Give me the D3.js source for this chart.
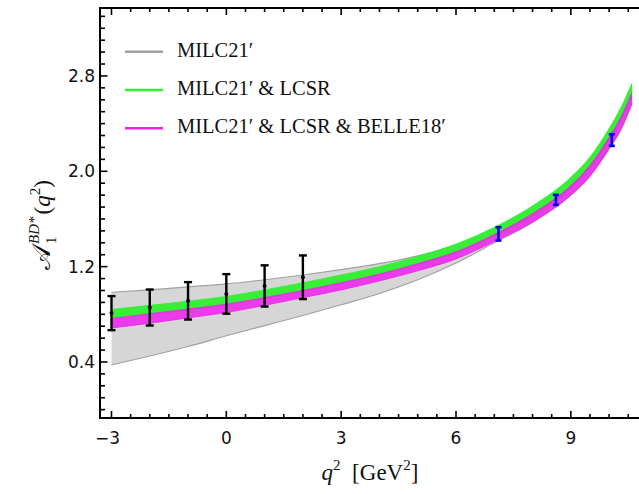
<!DOCTYPE html>
<html>
<head>
<meta charset="utf-8">
<script src="https://cdn.jsdelivr.net/npm/d3@7"></script>
<style>
  body { margin: 0; background: #fff; }
  svg { display: block; }
</style>
</head>
<body>
<svg id="chart" width="639" height="494"></svg>
<script>
// band grid (q^2 in GeV^2) and band edges
const q2Grid   = [-3, -2, -1, 0, 1, 2, 3, 4, 5, 6, 7, 8, 9, 9.5, 10, 10.3, 10.6];
const milcHi   = [0.985, 1.005, 1.03, 1.055, 1.09, 1.13, 1.175, 1.225, 1.29, 1.38, 1.51, 1.69, 1.93, 2.10, 2.34, 2.50, 2.72];
const milcLo   = [0.375, 0.45, 0.53, 0.62, 0.705, 0.79, 0.88, 0.975, 1.09, 1.23, 1.40, 1.57, 1.80, 1.96, 2.19, 2.34, 2.57];
const lcsrHi   = [0.84, 0.875, 0.91, 0.95, 1.005, 1.065, 1.13, 1.20, 1.285, 1.39, 1.53, 1.71, 1.95, 2.12, 2.36, 2.53, 2.74];
const lcsrLo   = [0.765, 0.80, 0.835, 0.878, 0.935, 0.995, 1.06, 1.13, 1.215, 1.315, 1.455, 1.625, 1.86, 2.025, 2.26, 2.42, 2.62];
const belleHi  = [0.765, 0.805, 0.845, 0.885, 0.94, 1.0, 1.065, 1.138, 1.225, 1.325, 1.47, 1.645, 1.88, 2.05, 2.285, 2.45, 2.66];
const belleLo  = [0.685, 0.725, 0.77, 0.815, 0.875, 0.94, 1.005, 1.08, 1.165, 1.265, 1.41, 1.575, 1.80, 1.96, 2.19, 2.35, 2.57];

// lattice points (black) and BELLE points (blue)
const latticeQ2  = [-3, -2, -1, 0, 1, 2];
const latticeVal = [0.81, 0.857, 0.913, 0.971, 1.038, 1.111];
const latticeErr = [0.143, 0.151, 0.157, 0.166, 0.173, 0.183];
const belleQ2    = [7.11, 8.61, 10.07];
const belleVal   = [1.475, 1.76, 2.262];
const belleErr   = [0.056, 0.042, 0.049];

const xTicks = [-3, 0, 3, 6, 9];
const yTicks = [0.4, 1.2, 2.0, 2.8];
const legendLabels = ["MILC21\u2032", "MILC21\u2032 & LCSR", "MILC21\u2032 & LCSR & BELLE18\u2032"];

const svg = d3.select("#chart");
const pLeft = 100, pRight = 640, pTop = 8, pBottom = 418;

const x = d3.scaleLinear().domain([-3.3, -3.3 + (pRight - pLeft) / 38.28]).range([pLeft, pRight]);
const y = d3.scaleLinear().domain([-0.07, 3.37]).range([pBottom, pTop]);

svg.append("clipPath").attr("id", "plotclip")
  .append("rect").attr("x", pLeft).attr("y", pTop).attr("width", pRight - pLeft).attr("height", pBottom - pTop);

const plot = svg.append("g").attr("clip-path", "url(#plotclip)");

function drawBand(hi, lo, fill, fillOpacity, edge, edgeWidth) {
  const pts = q2Grid.map((q, i) => ({ q, hi: hi[i], lo: lo[i] }));
  const area = d3.area().x(d => x(d.q)).y0(d => y(d.lo)).y1(d => y(d.hi)).curve(d3.curveMonotoneX);
  plot.append("path").datum(pts).attr("d", area)
    .attr("fill", fill).attr("fill-opacity", fillOpacity).attr("stroke", "none");
  ["hi", "lo"].forEach(k => {
    const line = d3.line().x(d => x(d.q)).y(d => y(d[k])).curve(d3.curveMonotoneX);
    plot.append("path").datum(pts).attr("d", line)
      .attr("fill", "none").attr("stroke", edge).attr("stroke-width", edgeWidth);
  });
}

drawBand(milcHi, milcLo, "#d6d6d6", 1, "#a0a0a0", 1.2);
drawBand(lcsrHi, lcsrLo, "#2ef02e", 0.95, "#2ef02e", 0.8);
drawBand(belleHi, belleLo, "#f020f0", 0.85, "#f020f0", 0.8);

// error bars
function drawErrors(qs, vals, errs, color, width, cap, dot) {
  const g = svg.append("g");
  qs.forEach((q, i) => {
    const cx = x(q), y1 = y(vals[i] + errs[i]), y2 = y(vals[i] - errs[i]);
    g.append("line").attr("x1", cx).attr("x2", cx).attr("y1", y1).attr("y2", y2)
      .attr("stroke", color).attr("stroke-width", width);
    [y1, y2].forEach(yy => g.append("line")
      .attr("x1", cx - cap).attr("x2", cx + cap).attr("y1", yy).attr("y2", yy)
      .attr("stroke", color).attr("stroke-width", width));
    if (dot) g.append("circle").attr("cx", cx).attr("cy", y(vals[i])).attr("r", dot).attr("fill", color);
  });
}
drawErrors(latticeQ2, latticeVal, latticeErr, "#000", 2.4, 4, 2);
drawErrors(belleQ2, belleVal, belleErr, "#0000ee", 2.6, 3, 0);

// frame and ticks
const axisG = svg.append("g").attr("stroke", "#000");
axisG.append("line").attr("x1", pLeft).attr("x2", pLeft).attr("y1", pTop - 1).attr("y2", pBottom + 1).attr("stroke-width", 2);
axisG.append("line").attr("x1", pLeft - 1).attr("x2", pRight).attr("y1", pBottom).attr("y2", pBottom).attr("stroke-width", 2);
axisG.append("line").attr("x1", pLeft - 1).attr("x2", pRight).attr("y1", pTop).attr("y2", pTop).attr("stroke-width", 2);

const xMinor = d3.range(-3, 10.75, 0.5);
xMinor.forEach(v => {
  const major = xTicks.includes(v);
  const len = major ? 7 : 4;
  axisG.append("line").attr("x1", x(v)).attr("x2", x(v)).attr("y1", pBottom).attr("y2", pBottom - len).attr("stroke-width", 1.6);
  axisG.append("line").attr("x1", x(v)).attr("x2", x(v)).attr("y1", pTop).attr("y2", pTop + len).attr("stroke-width", 1.6);
});
const yMinor = d3.range(0, 34).map(i => i / 10);
yMinor.forEach(v => {
  const major = yTicks.some(t => Math.abs(t - v) < 1e-6);
  const len = major ? 7.5 : 5;
  axisG.append("line").attr("x1", pLeft).attr("x2", pLeft + len).attr("y1", y(v)).attr("y2", y(v)).attr("stroke-width", 1.6);
});

const tickFont = "'DejaVu Sans', sans-serif";
svg.append("g").selectAll("text").data(xTicks).join("text")
  .attr("x", d => x(d) + (d < 0 ? -4 : 0)).attr("y", 444)
  .attr("text-anchor", "middle").attr("font-family", tickFont).attr("font-size", 17).attr("fill", "#111")
  .text(d => d < 0 ? "\u2212" + Math.abs(d) : d);
svg.append("g").selectAll("text").data(yTicks).join("text")
  .attr("x", 95).attr("y", d => y(d) + 6)
  .attr("text-anchor", "end").attr("font-family", tickFont).attr("font-size", 17).attr("fill", "#111")
  .text(d => d.toFixed(1));

// legend
const serif = "'Liberation Serif', 'DejaVu Serif', serif";
const legendColors = ["#a0a0a0", "#2ef02e", "#f020f0"];
legendLabels.forEach((t, i) => {
  const by = 56.7 + i * 38.3;
  svg.append("line").attr("x1", 125).attr("x2", 163).attr("y1", by - 5).attr("y2", by - 5)
    .attr("stroke", legendColors[i]).attr("stroke-width", 2.6);
  svg.append("text").attr("x", 177).attr("y", by).attr("font-family", serif).attr("font-size", 20.5)
    .attr("fill", "#111").text(t);
});

// x label
const xl = svg.append("text").attr("x", 370).attr("y", 480).attr("text-anchor", "middle")
  .attr("font-family", serif).attr("font-size", 23).attr("fill", "#111");
xl.append("tspan").attr("font-style", "italic").text("q");
xl.append("tspan").attr("font-size", 15).attr("dy", -10).text("2");
xl.append("tspan").attr("dy", 10).text("\u2002[GeV");
xl.append("tspan").attr("font-size", 15).attr("dy", -10).text("2");
xl.append("tspan").attr("dy", 10).text("]");

// y label (rotated)
const yl = svg.append("g").attr("transform", "translate(50,270) rotate(-90)")
  .attr("font-family", serif).attr("fill", "#111");
const aT = yl.append("text").attr("x", 0).attr("y", 0).attr("font-size", 26).text("\ud835\udc9c");
const aw = aT.node().getComputedTextLength();
const supT = yl.append("text").attr("x", aw + 1).attr("y", -11).attr("font-size", 15).attr("font-style", "italic").text("BD*");
yl.append("text").attr("x", aw + 1).attr("y", 6).attr("font-size", 15).text("1");
const sw = supT.node().getComputedTextLength();
const rest = yl.append("text").attr("x", aw + sw + 3).attr("y", 0).attr("font-size", 23);
rest.append("tspan").text("(");
rest.append("tspan").attr("font-style", "italic").text("q");
rest.append("tspan").attr("font-size", 15).attr("dy", -10).text("2");
rest.append("tspan").attr("dy", 10).text(")");
</script>
</body>
</html>
